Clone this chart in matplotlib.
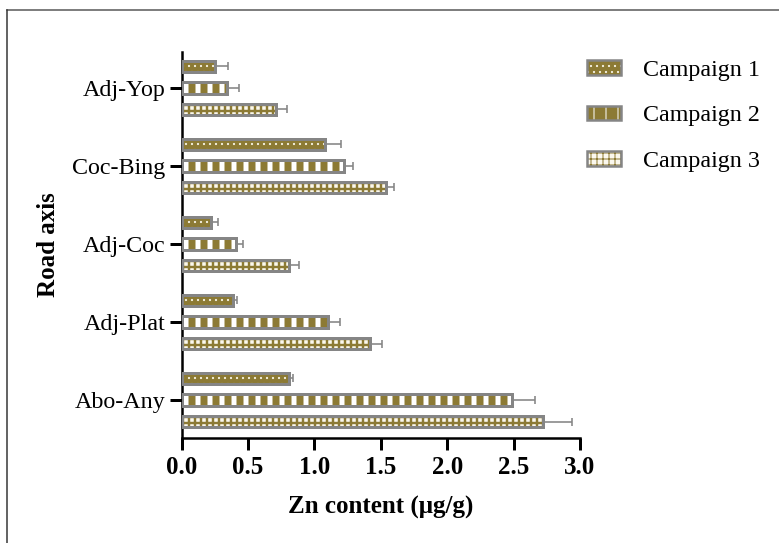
import matplotlib
matplotlib.use('Agg')
import matplotlib.pyplot as plt
import numpy as np
from matplotlib.patches import Patch
from matplotlib.lines import Line2D

categories = ['Abo-Any', 'Adj-Plat', 'Adj-Coc', 'Coc-Bing', 'Adj-Yop']
series = ['Campaign 1', 'Campaign 2', 'Campaign 3']
c1 = [0.81, 0.39, 0.22, 1.08, 0.25]
c1_err = [0.03, 0.03, 0.05, 0.12, 0.10]
c2 = [2.49, 1.10, 0.41, 1.22, 0.34]
c2_err = [0.17, 0.09, 0.05, 0.07, 0.09]
c3 = [2.72, 1.42, 0.81, 1.54, 0.71]
c3_err = [0.22, 0.09, 0.07, 0.06, 0.08]
xticks = [0.0, 0.5, 1.0, 1.5, 2.0, 2.5, 3.0]

OLIVE = '#8c7a34'
GRAY = '#858585'
W, H = 779, 543
DPI = 72

plt.rcParams['font.family'] = ['Liberation Serif', 'DejaVu Serif']

fig = plt.figure(figsize=(W / DPI, H / DPI), dpi=DPI)
ax = fig.add_axes([181.7 / W, 1 - 438 / H, (580 - 181.7) / W, (438 - 52) / H])

styles = [
    dict(face=OLIVE, hatch='..', hcol='#f4f0e0', hlw=1.0),
    dict(face=OLIVE, hatch='|', hcol='white', hlw=5.0),
    dict(face='#fbf8ee', hatch='++', hcol=OLIVE, hlw=2.4),
]
values = [c1, c2, c3]
errs = [c1_err, c2_err, c3_err]
offsets = [0.276, 0.0, -0.276]
bh = 0.145
y = np.arange(len(categories))

handles = []
for vals, err, off, st, name in zip(values, errs, offsets, styles, series):
    ax.errorbar(vals, y + off, xerr=[np.zeros(len(vals)), err], fmt='none',
                ecolor=GRAY, elinewidth=1.6, capsize=4, capthick=1.6, zorder=1)
    bars = ax.barh(y + off, vals, height=bh, color=st['face'], edgecolor=st['hcol'],
                   hatch=st['hatch'], linewidth=0, zorder=2)
    for b in bars:
        if hasattr(b, 'set_hatch_linewidth'):
            b.set_hatch_linewidth(st['hlw'])
    ax.barh(y + off, vals, height=bh, color='none', edgecolor=GRAY,
            linewidth=3, zorder=3)
    pf = Patch(facecolor=st['face'], edgecolor=st['hcol'], hatch=st['hatch'], linewidth=0)
    if hasattr(pf, 'set_hatch_linewidth'):
        pf.set_hatch_linewidth(st['hlw'])
    pe = Patch(facecolor='none', edgecolor=GRAY, linewidth=2.5)
    handles.append((pf, pe))

ax.set_xlim(0, 3.0)
ax.set_ylim(-0.487, 4.46)
ax.set_xticks(xticks)
ax.set_xticklabels([f'{t:.1f}' for t in xticks], fontsize=25, fontweight='bold')
ax.set_yticks(y)
ax.set_yticklabels(categories, fontsize=24)
for s in ['top', 'right']:
    ax.spines[s].set_visible(False)
for s in ['left', 'bottom']:
    ax.spines[s].set_linewidth(2.5)
ax.tick_params(axis='both', length=12, width=3, direction='out')
ax.tick_params(axis='y', pad=4)
ax.tick_params(axis='x', pad=6)
ax.set_xlabel('Zn content (μg/g)', fontsize=25, fontweight='bold', labelpad=17)
ax.set_ylabel('Road axis', fontsize=25, fontweight='bold', labelpad=12)

leg = fig.legend(handles, series, loc='upper left',
                 bbox_to_anchor=(587 / W, 1 - 60 / H), frameon=False,
                 fontsize=24, handlelength=1.4, handleheight=0.55,
                 handletextpad=0.95, labelspacing=1.02, borderpad=0,
                 borderaxespad=0)

fig.add_artist(Line2D([7 / W, 1], [1 - 10 / H, 1 - 10 / H], color='#555555', lw=1.5))
fig.add_artist(Line2D([7 / W, 7 / W], [0, 1 - 10 / H], color='#333333', lw=1.5))

fig.savefig('out.png', dpi=DPI)
